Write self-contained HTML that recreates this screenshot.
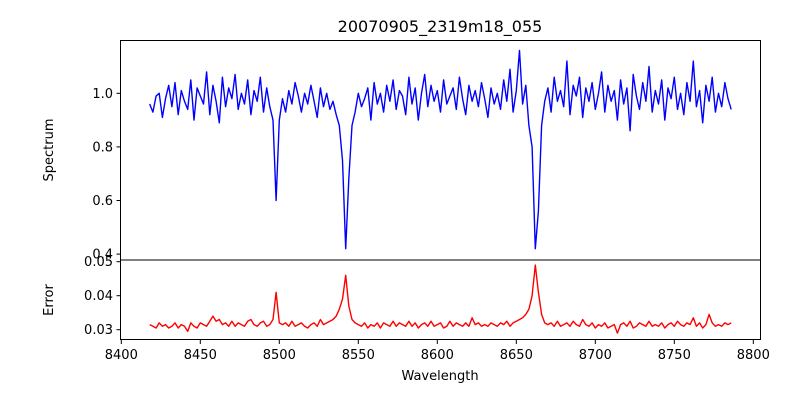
<!DOCTYPE html>
<html><head><meta charset="utf-8"><style>
body{margin:0;background:#fff;}
svg{display:block;font-family:"DejaVu Sans","Liberation Sans",sans-serif;}
</style></head><body>
<svg id="chart" width="800" height="400">
<text x="440" y="32" font-size="16" text-anchor="middle">20070905_2319m18_055</text>
<g id="topPanel"></g>
<g id="botPanel"></g>
<text transform="translate(53,150) rotate(-90)" font-size="13" text-anchor="middle">Spectrum</text>
<text transform="translate(53,300) rotate(-90)" font-size="13" text-anchor="middle">Error</text>
<text x="440" y="380" font-size="13" text-anchor="middle">Wavelength</text>
</svg>
<script>
const wlStart = 8418;
const wlStep = 2;
const flux = [.96,.93,.99,1.00,.91,.98,1.03,.95,1.04,.92,
1.01,.97,.94,1.05,.90,1.02,.99,.96,1.08,.92,
1.03,.97,.89,1.06,.95,1.02,.98,1.07,.94,1.00,
.96,1.05,.92,1.01,.97,1.06,.93,1.02,.95,.90,
.60,.90,.98,.93,1.01,.96,1.04,.99,.93,1.00,
.96,1.03,.97,.91,1.02,.95,1.00,.94,.97,.92,
.88,.75,.42,.68,.88,.93,1.00,.95,.98,1.02,
.90,1.04,.96,1.00,.93,1.03,.97,1.05,.94,1.01,
.99,.92,1.06,.96,1.02,.90,1.00,1.07,.95,1.03,
.97,1.01,.93,1.05,.96,.99,1.02,.94,1.06,.98,
.92,1.03,.97,1.01,.95,1.04,.98,.91,1.02,.96,
1.00,.94,1.05,.97,1.09,.93,1.01,1.16,.96,1.03,
.88,.80,.42,.56,.88,.97,1.02,.93,1.06,.97,
1.01,.95,1.12,.92,1.03,.99,1.06,.91,1.02,.97,
1.04,.94,1.00,1.08,.93,1.03,.97,1.01,.90,1.05,
.96,1.02,.86,1.07,.99,.94,1.04,.97,1.10,.93,
1.01,.96,1.05,.90,1.02,.98,1.06,.94,1.00,.92,
1.04,.97,1.12,.95,1.01,.89,1.03,.97,1.06,.93,
1.00,.95,1.04,.98,.94];
const err = [.0315,.031,.0305,.032,.031,.0315,.0305,.031,.032,.0305,
.0315,.031,.0295,.032,.031,.0305,.032,.0315,.031,.0325,
.034,.0325,.033,.0315,.032,.031,.0325,.031,.032,.0315,
.031,.0325,.033,.0315,.031,.032,.0325,.031,.0315,.033,
.041,.032,.0315,.032,.031,.0325,.031,.0315,.032,.031,
.0305,.0315,.032,.031,.033,.0315,.032,.0325,.033,.034,
.036,.039,.046,.037,.033,.032,.0315,.031,.032,.0305,
.0315,.031,.032,.0305,.032,.0315,.031,.0325,.031,.032,
.0315,.031,.0325,.031,.032,.0305,.0315,.032,.031,.0325,
.031,.0315,.032,.0305,.031,.0325,.031,.032,.0315,.031,
.032,.031,.0335,.0315,.032,.031,.0315,.031,.032,.0315,
.031,.032,.0315,.0325,.031,.032,.0325,.033,.0335,.0345,
.036,.040,.049,.041,.0345,.032,.0315,.032,.031,.0325,
.031,.0315,.032,.031,.0325,.0315,.031,.033,.0315,.031,
.032,.0305,.0315,.031,.032,.0305,.031,.0315,.029,.0315,
.032,.031,.0325,.0305,.031,.032,.0315,.031,.0325,.031,
.0315,.031,.032,.0305,.0315,.032,.031,.0325,.0315,.031,
.032,.0315,.0335,.031,.032,.0305,.0315,.0345,.032,.031,
.0315,.031,.032,.0315,.032];
const xTicks = [8400,8450,8500,8550,8600,8650,8700,8750,8800];
const fluxTicks = [0.4,0.6,0.8,1.0];
const errTicks = [0.03,0.04,0.05];

const NS = 'http://www.w3.org/2000/svg';
const X = w => 121.3 + (w - 8400) * 79 / 50;
const YF = v => 93.3 - (v - 1.0) * 53.6 / 0.2;
const YE = v => 329.7 - (v - 0.03) * 3400;
function mk(tag, attrs, parent){const e=document.createElementNS(NS,tag);for(const k in attrs)e.setAttribute(k,attrs[k]);parent.appendChild(e);return e;}
const topG=document.getElementById('topPanel'), botG=document.getElementById('botPanel');

function drawPath(arr, yf, color, parent, name){
  let d='';
  arr.forEach((v,i)=>{d+=(i?'L':'M')+X(wlStart+i*wlStep).toFixed(1)+','+yf(v).toFixed(1);});
  const p=mk('path',{d:d,fill:'none',stroke:color,'stroke-width':1.4,'stroke-linejoin':'round'},parent);
  
  
}
drawPath(flux, YF, '#0000ff', topG, 'spectrum-line');
drawPath(err, YE, '#ff0000', botG, 'error-line');

const f1=mk('rect',{x:120.5,y:40.5,width:640,height:219.5,fill:'none',stroke:'#000','stroke-width':1},topG);


const f2=mk('rect',{x:120.5,y:260,width:640,height:79.5,fill:'none',stroke:'#000','stroke-width':1},botG);



fluxTicks.forEach(v=>{
  const y=YF(v);
  mk('line',{x1:116.5,x2:120.5,y1:y,y2:y,stroke:'#000'},topG);
  const t=mk('text',{x:113,y:y+4.5,'font-size':13,'text-anchor':'end'},topG);
  t.textContent=v.toFixed(1);
  
  
});
errTicks.forEach(v=>{
  const y=YE(v);
  mk('line',{x1:116.5,x2:120.5,y1:y,y2:y,stroke:'#000'},botG);
  const t=mk('text',{x:113,y:y+4.5,'font-size':13,'text-anchor':'end'},botG);
  t.textContent=v.toFixed(2);
  
  
});
xTicks.forEach(w=>{
  const x=X(w);
  mk('line',{x1:x,x2:x,y1:340,y2:344,stroke:'#000'},botG);
  const t=mk('text',{x:x,y:359,'font-size':13,'text-anchor':'middle'},botG);
  t.textContent=w;
  
  
});
</script>
</body></html>
